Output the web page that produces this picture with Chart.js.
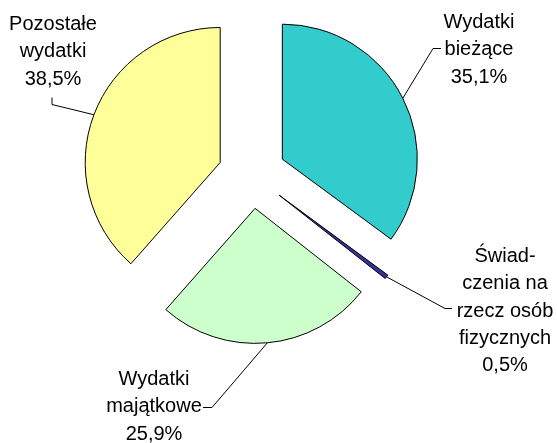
<!DOCTYPE html>
<html>
<head>
<meta charset="utf-8">
<script src="https://cdn.jsdelivr.net/npm/chart.js@4"></script>
<style>
  html, body { margin: 0; padding: 0; background: #fff; }
  canvas { display: block; }
</style>
</head>
<body>
<canvas id="pieChart" width="557" height="443"></canvas>
<script>
// --- Data ---
const categories = ['Wydatki bieżące', 'Świadczenia na rzecz osób fizycznych', 'Wydatki majątkowe', 'Pozostałe wydatki'];
const shares = [35.1, 0.5, 25.9, 38.5];
const labelLines = [
    ['Wydatki', 'bieżące'],
    ['Świad-', 'czenia na', 'rzecz osób', 'fizycznych'],
    ['Wydatki', 'majątkowe'],
    ['Pozostałe', 'wydatki']
];
const sliceColors = ['#33CCCC', '#333399', '#CCFFCC', '#FFFF99'];

// label placement: text centre x, first baseline y, leader elbow and tick end
const labelBoxes = [
    { x: 479, y: 28,  elbow: [433, 48],  tick: [441, 48] },
    { x: 505, y: 262, elbow: [445, 308], tick: [452, 308] },
    { x: 154, y: 385, elbow: [212, 407], tick: [203, 407] },
    { x: 53,  y: 30,  elbow: [52, 104],  tick: [52, 97] }
];
const EXPLODE = 34;
const LINE_H = 27.3;

// Move every slice outward along its bisector (pure translation)
const explodePlugin = {
    id: 'explode',
    afterDatasetUpdate(chart, args) {
        args.meta.data.forEach(arc => {
            const mid = (arc.startAngle + arc.endAngle) / 2;
            arc.x += Math.cos(mid) * EXPLODE;
            arc.y += Math.sin(mid) * EXPLODE;
        });
    }
};

// Labels with leader lines
const labelPlugin = {
    id: 'sliceLabels',
    afterDatasetsDraw(chart) {
        const ctx = chart.ctx;
        const arcs = chart.getDatasetMeta(0).data;
        ctx.save();
        ctx.strokeStyle = '#000';
        ctx.lineWidth = 1;
        ctx.fillStyle = '#000';
        ctx.font = '20px "Liberation Sans", Arial, sans-serif';
        ctx.textAlign = 'center';
        ctx.textBaseline = 'alphabetic';
        arcs.forEach((arc, i) => {
            const box = labelBoxes[i];
            const mid = (arc.startAngle + arc.endAngle) / 2;
            const px = arc.x + Math.cos(mid) * arc.outerRadius;
            const py = arc.y + Math.sin(mid) * arc.outerRadius;
            ctx.beginPath();
            ctx.moveTo(px, py);
            ctx.lineTo(box.elbow[0], box.elbow[1] + 0.5);
            ctx.lineTo(box.tick[0], box.tick[1] + 0.5);
            ctx.stroke();

            const lines = labelLines[i].concat([shares[i].toFixed(1).replace('.', ',') + '%']);
            lines.forEach((t, k) => ctx.fillText(t, box.x, box.y + k * LINE_H));
        });
        ctx.restore();
    }
};

const ctx = document.getElementById('pieChart').getContext('2d');
new Chart(ctx, {
    type: 'pie',
    data: {
        labels: categories,
        datasets: [{
            data: shares,
            backgroundColor: sliceColors,
            borderColor: '#000',
            borderWidth: 1,
            hoverBorderWidth: 1,
            borderJoinStyle: 'miter',
            offset: 0,
            hoverOffset: 0
        }]
    },
    options: {
        responsive: false,
        animation: false,
        events: [],
        layout: {
            padding: { left: 116.5, top: 39, right: 169.5, bottom: 133 }
        },
        plugins: {
            legend: { display: false },
            tooltip: { enabled: false }
        }
    },
    plugins: [explodePlugin, labelPlugin]
});
</script>
</body>
</html>
